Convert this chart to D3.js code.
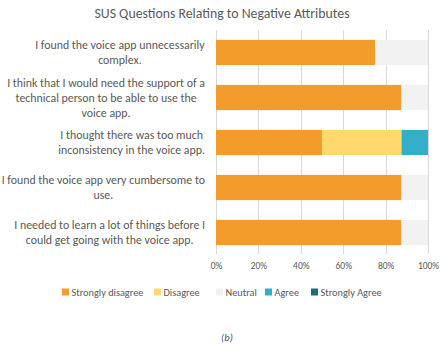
<!DOCTYPE html>
<html><head><meta charset="utf-8">
<script src="https://cdn.jsdelivr.net/npm/d3@7"></script>
<style>body{margin:0;background:#fff;} svg{display:block;font-family:"Carlito","Liberation Sans","Noto Sans",sans-serif;}</style>
</head><body>
<svg id="c" width="440" height="344"></svg>
<script>
const title = "SUS Questions Relating to Negative Attributes";
const questions = [
  ["I found the voice app unnecessarily", "complex."],
  ["I think that I would need the support of a", "technical person to be able to use the", "voice app."],
  ["I thought there was too much", "inconsistency in the voice app."],
  ["I found the voice app very cumbersome to", "use."],
  ["I needed to learn a lot of things before I", "could get going with the voice app."]
];
const seriesNames = ["Strongly disagree", "Disagree", "Neutral", "Agree", "Strongly Agree"];
const stronglyDisagree = [0.75, 0.875, 0.5, 0.875, 0.875];
const disagree = [0, 0, 0.375, 0, 0];
const neutral = [0.25, 0.125, 0, 0.125, 0.125];
const agree = [0, 0, 0.125, 0, 0];
const stronglyAgree = [0, 0, 0, 0, 0];
const colors = ["#F39C2C", "#FFD86E", "#F2F2F2", "#35AFC9", "#1F6E7A"];
const ticks = [0, 0.2, 0.4, 0.6, 0.8, 1.0];
const caption = "(b)";

const svg = d3.select("#c");
const textColor = "#595959";
const x = d3.scaleLinear().domain([0, 1]).range([216, 428]);
const y = d3.scaleBand().domain(d3.range(questions.length)).range([30, 255]).paddingInner(0.44).paddingOuter(0.22);

svg.append("text").attr("x", 222).attr("y", 18).attr("text-anchor", "middle")
  .attr("fill", textColor).attr("font-size", 13.8).text(title);

// gridlines
svg.append("g").selectAll("line").data(ticks).join("line")
  .attr("x1", d => Math.round(x(d)) + 0.5).attr("x2", d => Math.round(x(d)) + 0.5)
  .attr("y1", 30).attr("y2", 254).attr("stroke", "#D9D9D9").attr("stroke-width", 1);

const rows = questions.map((q, i) => ({i, vals: [stronglyDisagree[i], disagree[i], neutral[i], agree[i], stronglyAgree[i]]}));
const stackData = rows.map(r => { const o = {i: r.i}; seriesNames.forEach((s, k) => o[s] = r.vals[k]); return o; });
const stack = d3.stack().keys(seriesNames)(stackData);

svg.append("g").selectAll("g").data(stack).join("g")
  .attr("fill", (d, k) => colors[k])
  .selectAll("rect").data(d => d).join("rect")
  .attr("x", d => x(d[0])).attr("width", d => x(d[1]) - x(d[0]))
  .attr("y", (d, j) => y(j)).attr("height", y.bandwidth());

// x axis labels
const xAxis = d3.axisBottom(x).tickValues(ticks).tickFormat(d3.format(".0%")).tickSize(0).tickPadding(0);
const ga = svg.append("g").attr("transform", "translate(0,266)").call(xAxis);
ga.select(".domain").remove();
ga.selectAll("text").attr("fill", textColor).attr("font-size", 9.5).attr("font-family", "Carlito, 'Liberation Sans', sans-serif").attr("dy", "0.35em");

// fit label font size so the widest line spans ~198px (as in the reference)
const probe = svg.append("text").attr("font-size", 10).text(questions[1][0]);
const labelSize = Math.min(12, 10 * 198 / probe.node().getComputedTextLength());
probe.remove();

// category labels
const lh = 15;
questions.forEach((lines, i) => {
  const g = svg.append("g");
  const cy = y(i) + y.bandwidth() / 2;
  const t = g.append("text").attr("fill", textColor).attr("font-size", labelSize).attr("text-anchor", "middle");
  lines.forEach((l, k) => t.append("tspan").attr("x", 0).attr("y", cy + (k - (lines.length - 1) / 2) * lh).attr("dy", "0.35em").text(l));
  const w = t.node().getBBox().width;
  t.selectAll("tspan").attr("x", 205 - w / 2);
});

// legend
const probe2 = svg.append("text").attr("font-size", 10).text(seriesNames[0]);
const legendSize = Math.min(11, 10 * 72 / probe2.node().getComputedTextLength());
probe2.remove();
const legendX = [62, 154, 216, 265, 311];
const lg = svg.append("g").attr("transform", "translate(0,292)");
seriesNames.forEach((s, k) => {
  lg.append("rect").attr("x", legendX[k]).attr("y", -3.5).attr("width", 7).attr("height", 7).attr("fill", colors[k]);
  lg.append("text").attr("x", legendX[k] + 9.5).attr("y", 0).attr("dy", "0.35em").attr("fill", textColor).attr("font-size", legendSize).text(s);
});

svg.append("text").attr("x", 227).attr("y", 341).attr("text-anchor", "middle").attr("fill", "#44546A")
  .attr("font-size", 10.5).attr("font-style", "italic").text(caption);
</script>
</body></html>
